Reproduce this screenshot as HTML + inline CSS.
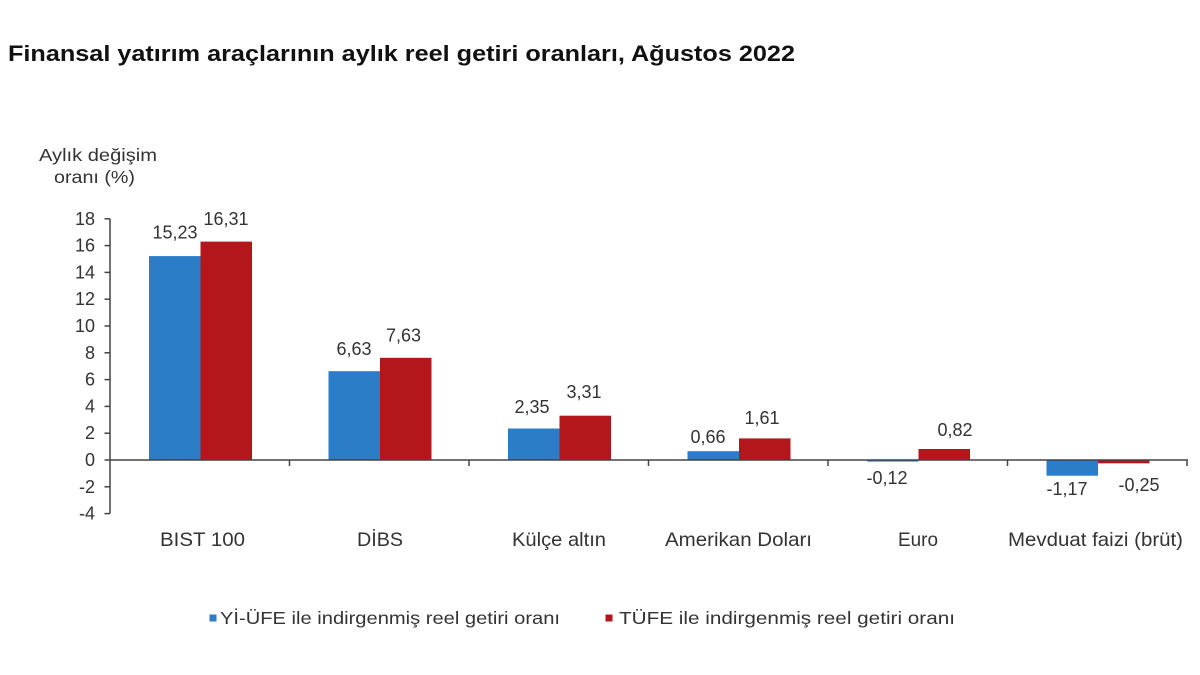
<!DOCTYPE html>
<html>
<head>
<meta charset="utf-8">
<style>
html,body{margin:0;padding:0;background:#fff;}
svg{display:block;}
text{font-family:"Liberation Sans",Arial,sans-serif;}
</style>
</head>
<body>
<svg width="1200" height="675" viewBox="0 0 1200 675" xmlns="http://www.w3.org/2000/svg">
<rect width="1200" height="675" fill="#ffffff"/>
<!-- Title -->
<text x="8" y="61" font-size="22" font-weight="bold" fill="#111" textLength="787" lengthAdjust="spacingAndGlyphs">Finansal yatırım araçlarının aylık reel getiri oranları, Ağustos 2022</text>

<!-- Axis title -->
<text x="39" y="161" font-size="17.5" fill="#333" textLength="118" lengthAdjust="spacingAndGlyphs">Aylık değişim</text>
<text x="54" y="183" font-size="17.5" fill="#333" textLength="81" lengthAdjust="spacingAndGlyphs">oranı (%)</text>

<!-- Bars -->
<g>
<!-- BIST 100 -->
<rect x="149" y="256.1" width="51.5" height="203.9" fill="#2a7dc6"/>
<rect x="200.5" y="241.6" width="51.5" height="218.4" fill="#b3171b"/>
<!-- DIBS -->
<rect x="328.5" y="371.2" width="51.5" height="88.8" fill="#2a7dc6"/>
<rect x="380" y="357.8" width="51.5" height="102.2" fill="#b3171b"/>
<!-- Kulce -->
<rect x="508" y="428.5" width="51.5" height="31.5" fill="#2a7dc6"/>
<rect x="559.5" y="415.7" width="51.5" height="44.3" fill="#b3171b"/>
<!-- Amerikan -->
<rect x="687.5" y="451.2" width="51.5" height="8.8" fill="#2a7dc6"/>
<rect x="739" y="438.4" width="51.5" height="21.6" fill="#b3171b"/>
<!-- Euro -->
<rect x="867" y="460" width="51.5" height="1.6" fill="#2a7dc6"/>
<rect x="918.5" y="449" width="51.5" height="11" fill="#b3171b"/>
<!-- Mevduat -->
<rect x="1046.5" y="460" width="51.5" height="15.7" fill="#2a7dc6"/>
<rect x="1098" y="460" width="51.5" height="3.3" fill="#b3171b"/>
</g>

<!-- Axes -->
<g stroke="#444" stroke-width="1.5" fill="none">
<line x1="110" y1="218.8" x2="110" y2="513.6"/>
<line x1="110" y1="460" x2="1188" y2="460"/>
<!-- y ticks -->
<line x1="104.5" y1="218.8" x2="110" y2="218.8"/>
<line x1="104.5" y1="245.6" x2="110" y2="245.6"/>
<line x1="104.5" y1="272.4" x2="110" y2="272.4"/>
<line x1="104.5" y1="299.2" x2="110" y2="299.2"/>
<line x1="104.5" y1="326" x2="110" y2="326"/>
<line x1="104.5" y1="352.8" x2="110" y2="352.8"/>
<line x1="104.5" y1="379.6" x2="110" y2="379.6"/>
<line x1="104.5" y1="406.4" x2="110" y2="406.4"/>
<line x1="104.5" y1="433.2" x2="110" y2="433.2"/>
<line x1="104.5" y1="460" x2="110" y2="460"/>
<line x1="104.5" y1="486.8" x2="110" y2="486.8"/>
<line x1="104.5" y1="513.6" x2="110" y2="513.6"/>
<!-- category ticks -->
<line x1="289.5" y1="460" x2="289.5" y2="466"/>
<line x1="469" y1="460" x2="469" y2="466"/>
<line x1="648.5" y1="460" x2="648.5" y2="466"/>
<line x1="828" y1="460" x2="828" y2="466"/>
<line x1="1007.5" y1="460" x2="1007.5" y2="466"/>
<line x1="1187" y1="460" x2="1187" y2="466"/>
</g>

<!-- Y tick labels -->
<g font-size="18" fill="#333" text-anchor="end">
<text x="95" y="224.8">18</text>
<text x="95" y="251.6">16</text>
<text x="95" y="278.4">14</text>
<text x="95" y="305.2">12</text>
<text x="95" y="332">10</text>
<text x="95" y="358.8">8</text>
<text x="95" y="385.6">6</text>
<text x="95" y="412.4">4</text>
<text x="95" y="439.2">2</text>
<text x="95" y="466">0</text>
<text x="95" y="492.8">-2</text>
<text x="95" y="519.6">-4</text>
</g>

<!-- Data labels -->
<g font-size="18" fill="#333" text-anchor="middle">
<text x="175" y="238.5">15,23</text>
<text x="226" y="225">16,31</text>
<text x="354" y="355">6,63</text>
<text x="403.5" y="341.5">7,63</text>
<text x="532" y="413">2,35</text>
<text x="584" y="398">3,31</text>
<text x="708" y="443">0,66</text>
<text x="762" y="424">1,61</text>
<text x="887" y="484">-0,12</text>
<text x="955" y="436">0,82</text>
<text x="1067" y="495">-1,17</text>
<text x="1139" y="491">-0,25</text>
</g>

<!-- Category labels -->
<g font-size="19.5" fill="#333">
<text x="160" y="546" textLength="85" lengthAdjust="spacingAndGlyphs">BIST 100</text>
<text x="357" y="546" textLength="46" lengthAdjust="spacingAndGlyphs">DİBS</text>
<text x="512" y="546" textLength="94" lengthAdjust="spacingAndGlyphs">Külçe altın</text>
<text x="665" y="546" textLength="147" lengthAdjust="spacingAndGlyphs">Amerikan Doları</text>
<text x="898" y="546" textLength="40" lengthAdjust="spacingAndGlyphs">Euro</text>
<text x="1008" y="546" textLength="175" lengthAdjust="spacingAndGlyphs">Mevduat faizi (brüt)</text>
</g>

<!-- Legend -->
<rect x="209.5" y="614.5" width="7" height="7" fill="#2a7dc6"/>
<text x="220" y="624" font-size="17.5" fill="#333" textLength="340" lengthAdjust="spacingAndGlyphs">Yİ-ÜFE ile indirgenmiş reel getiri oranı</text>
<rect x="605.5" y="614.5" width="7" height="7" fill="#b3171b"/>
<text x="619" y="624" font-size="17.5" fill="#333" textLength="336" lengthAdjust="spacingAndGlyphs">TÜFE ile indirgenmiş reel getiri oranı</text>
</svg>
</body>
</html>
